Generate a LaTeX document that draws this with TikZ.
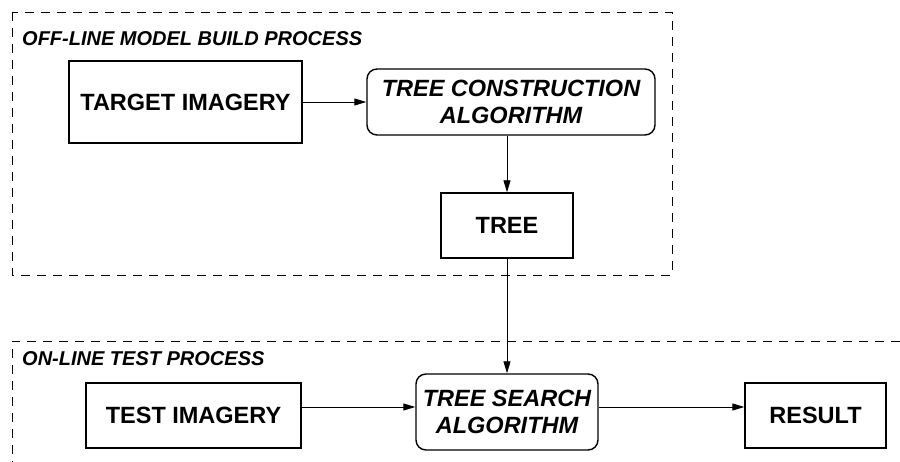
\documentclass[tikz,border=0pt]{standalone}
\usepackage{fontspec}
\setmainfont{Liberation Sans}
\usetikzlibrary{arrows.meta}
\begin{document}
\begin{tikzpicture}[x=1pt,y=-1pt,
  boxtext/.style={font=\fontsize{23.5}{27}\selectfont\bfseries, align=center, inner sep=0pt},
  algtext/.style={font=\fontsize{23.5}{27}\selectfont\bfseries\itshape, align=center, inner sep=0pt},
  plainbox/.style={draw, line width=1.4pt, boxtext},
  algbox/.style={draw, line width=1.4pt, rounded corners=10pt, algtext},
  region/.style={draw, line width=0.9pt, dash pattern=on 9pt off 7pt},
  regiontitle/.style={anchor=west, inner sep=0pt, font=\fontsize{20}{22}\selectfont\bfseries\itshape},
  arr/.style={line width=0.9pt, -{Triangle[length=12pt,width=7pt]}}]
\useasboundingbox (0,0) rectangle (900,462);

% off-line region
\draw[region] (12,12) rectangle (672,275);
\node[regiontitle] (offtitle) at (22,38.5) {OFF-LINE MODEL BUILD PROCESS};

\node[plainbox, minimum width=233pt, minimum height=82pt] (target) at (185.5,102) {TARGET IMAGERY};
\node[algbox, minimum width=288pt, minimum height=66pt] (construct) at (511,102) {TREE CONSTRUCTION\\ALGORITHM};
\node[plainbox, minimum width=132pt, minimum height=65pt] (tree) at (507,225.5) {TREE};

% on-line region
\draw[region] (900,341) -- (12,341) -- (12,462);
\node[regiontitle] (ontitle) at (22,359) {ON-LINE TEST PROCESS};

\node[plainbox, minimum width=215pt, minimum height=65pt] (test) at (193.5,415.5) {TEST IMAGERY};
\node[algbox, minimum width=182pt, minimum height=76pt] (search) at (507,412) {TREE SEARCH\\ALGORITHM};
\node[plainbox, minimum width=141pt, minimum height=65pt] (result) at (815.5,415.5) {RESULT};

% connectors
\draw[arr] (target.east) -- (construct.west);
\draw[arr] (construct.south -| tree.north) -- (tree.north);
\draw[arr] (tree.south) -- (search.north);
\draw[arr] ([yshift=8.5pt]test.east) -- ([yshift=5pt]search.west);
\draw[arr] ([yshift=5pt]search.east) -- ([yshift=8.5pt]result.west);
\end{tikzpicture}
\end{document}
